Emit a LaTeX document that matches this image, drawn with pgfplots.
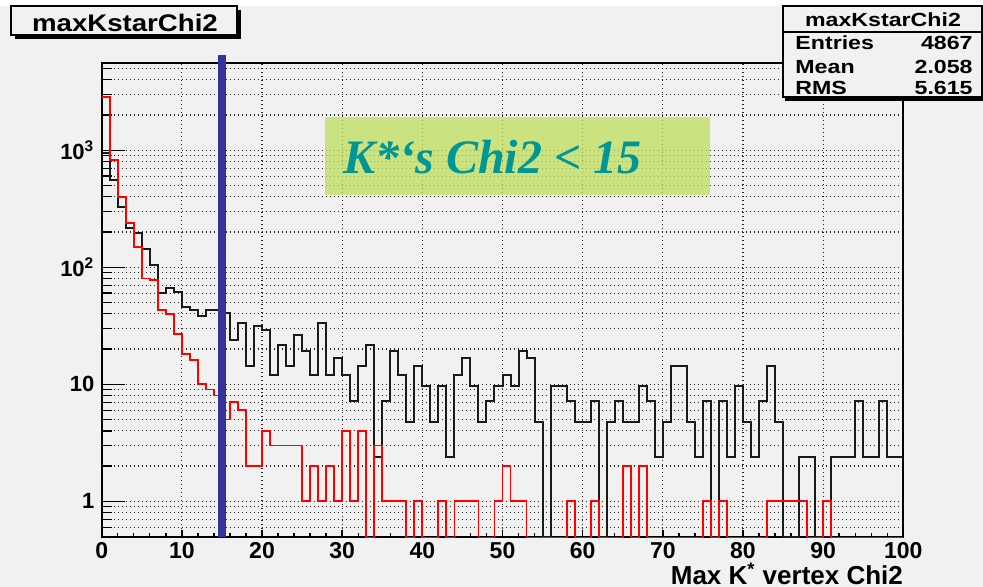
\documentclass[border=0pt]{standalone}
\usepackage{fontspec}
\setmainfont{Liberation Sans}
\newfontfamily\timesfont{Liberation Serif}
\usepackage{graphicx}
\usepackage{pgfplots}
\pgfplotsset{compat=1.18}
\definecolor{rootbg}{RGB}{241,241,241}
\definecolor{cutblue}{RGB}{51,51,153}
\definecolor{boxgreen}{RGB}{190,222,90}
\definecolor{cuttext}{RGB}{0,150,150}

\begin{document}
\begin{tikzpicture}
% canvas: 983 x 587 px, 1 px = 0.5 pt
\fill[rootbg] (0,0) rectangle (491.5pt,293.5pt);
\fill[white] (0,290.5pt) rectangle (491.5pt,293.5pt);
\begin{axis}[
  at={(50.85pt,24.75pt)}, anchor=south west,
  scale only axis, width=400.8pt, height=237.4pt,
  xmin=0, xmax=100,
  ymode=log, ymin=0.49, ymax=5600,
  xtick={0,10,...,100}, minor x tick num=4,
  ytick={1,10,100,1000},
  yticklabels={1,10,10\textsuperscript{2},10\textsuperscript{3}},
  minor ytick={0.5,0.6,0.7,0.8,0.9,2,3,4,5,6,7,8,9,20,30,40,50,60,70,80,90,
    200,300,400,500,600,700,800,900,2000,3000,4000,5000},
  tick pos=left, tick align=inside,
  major tick length=11.5pt, minor tick length=5pt,
  every major x tick/.append style={/pgfplots/major tick length=4pt},
  every minor x tick/.append style={/pgfplots/minor tick length=2.5pt},
  tick style={black, line width=0.7pt},
  axis line style={line width=1pt},
  xmajorgrids, ymajorgrids, yminorgrids,
  major grid style={black!85, line width=0.55pt, dash pattern=on 0.6pt off 1.4pt},
  minor grid style={black!85, line width=0.55pt, dash pattern=on 0.6pt off 1.4pt},
  /pgf/number format/assume math mode=true,
  xticklabel style={font=\bfseries\fontsize{11.5}{13}\selectfont, inner sep=0pt, yshift=-2.5pt},
  yticklabel style={font=\bfseries\fontsize{11}{13}\selectfont, inner sep=0pt, xshift=-3.5pt},
  xlabel={Max K\textsuperscript{*} vertex Chi2},
  xlabel style={at={(rel axis cs:1,0)}, anchor=base east, inner sep=0pt,
    yshift=-23.25pt, font=\bfseries\fontsize{13}{15}\selectfont},
  clip=false,
]
% green label box, translucent so the grid shows through
\fill[boxgreen, fill opacity=0.75] (axis cs:27.85,414) rectangle (axis cs:75.9,1920);

% black histogram (scaled, 100 bins of width 1; empty bins sit on the axis floor)
\addplot[const plot mark left, black!90, line width=1pt] coordinates {
(0,950) (1,556) (2,327) (3,216) (4,195) (5,143) (6,105) (7,60) (8,67) (9,62)
(10,45.6) (11,43.2) (12,38.4) (13,43.2) (14,43.2) (15,40.8) (16,24) (17,33.6) (18,14.4) (19,31.2)
(20,28.8) (21,12) (22,21.6) (23,14.4) (24,26.4) (25,19.2) (26,12) (27,33.6) (28,12) (29,16.8)
(30,12) (31,7.2) (32,14.4) (33,21.6) (34,2.4) (35,7.2) (36,19.2) (37,12) (38,4.8) (39,14.4)
(40,9.6) (41,4.8) (42,9.6) (43,2.4) (44,12) (45,16.8) (46,9.6) (47,4.8) (48,7.2) (49,9.6)
(50,12) (51,9.6) (52,19.2) (53,16.8) (54,4.8) (55,0.49) (56,9.6) (57,9.6) (58,7.2) (59,4.8)
(60,4.8) (61,7.2) (62,0.49) (63,4.8) (64,7.2) (65,4.8) (66,4.8) (67,9.6) (68,7.2) (69,2.4)
(70,4.8) (71,14.4) (72,14.4) (73,4.8) (74,2.4) (75,7.2) (76,0.49) (77,7.2) (78,2.4) (79,9.6)
(80,4.8) (81,2.4) (82,7.2) (83,14.4) (84,4.8) (85,0.49) (86,0.49) (87,2.4) (88,2.4) (89,0.49)
(90,0.49) (91,2.4) (92,2.4) (93,2.4) (94,7.2) (95,2.4) (96,2.4) (97,7.2) (98,2.4) (99,2.4)
(100,2.4)};

% red histogram (counts)
\addplot[const plot mark left, red, line width=0.9pt] coordinates {
(0,2843) (1,825) (2,396) (3,240) (4,150) (5,80) (6,78) (7,43) (8,40) (9,27)
(10,18) (11,16) (12,10) (13,9) (14,8) (15,5) (16,7) (17,6) (18,2) (19,2)
(20,4) (21,3) (22,3) (23,3) (24,3) (25,1) (26,2) (27,1) (28,2) (29,1)
(30,4) (31,1) (32,4) (33,0.49) (34,3) (35,1) (36,1) (37,1) (38,0.49) (39,1)
(40,0.49) (41,0.49) (42,1) (43,0.49) (44,1) (45,1) (46,1) (47,0.49) (48,0.49) (49,1)
(50,2) (51,1) (52,1) (53,0.49) (54,0.49) (55,0.49) (56,0.49) (57,0.49) (58,1) (59,0.49)
(60,0.49) (61,1) (62,0.49) (63,0.49) (64,0.49) (65,2) (66,0.49) (67,2) (68,0.49) (69,0.49)
(70,0.49) (71,0.49) (72,0.49) (73,0.49) (74,0.49) (75,1) (76,0.49) (77,1) (78,0.49) (79,0.49)
(80,0.49) (81,0.49) (82,0.49) (83,1) (84,1) (85,1) (86,1) (87,1) (88,0.49) (89,0.49)
(90,1) (91,0.49) (92,0.49) (93,0.49) (94,0.49) (95,0.49) (96,0.49) (97,0.49) (98,0.49) (99,0.49)
(100,0.49)};

% cut line and label
\draw[cutblue, line width=3.6pt] (axis cs:15,0.49) -- (axis cs:15,6500);
\node[anchor=base, inner sep=0pt, text=cuttext,
  font=\timesfont\bfseries\itshape\fontsize{24}{26}\selectfont]
  at (axis cs:48.75,635) {K*‘s Chi2 < 15};
\end{axis}

% title and stats boxes, in pixel units from the top left corner
\begin{scope}[x=0.5pt, y=-0.5pt, shift={(0pt,293.5pt)}]
\fill[black] (15,10) rectangle (241,39);
\filldraw[fill=rootbg, draw=black, line width=0.6pt] (11,6) rectangle (237,35);
\node[anchor=base, inner sep=0pt, font=\bfseries\fontsize{12}{14}\selectfont]
  at (125,31.5) {\scalebox{1.15}[1]{maxKstarChi2}};

\fill[black] (785,96) rectangle (983,101);
\filldraw[fill=rootbg, draw=black, line width=0.6pt] (783,6) rectangle (982,97);
\draw[black, line width=0.6pt] (783,32) -- (982,32);
\begin{scope}[every node/.style={inner sep=0pt, font=\bfseries\fontsize{9.5}{11}\selectfont}]
\node[anchor=base] at (883,26.7) {\scalebox{1.22}[1]{maxKstarChi2}};
\node[anchor=base west] at (795,50) {\scalebox{1.22}[1]{Entries}};
\node[anchor=base east] at (973,50) {\scalebox{1.22}[1]{4867}};
\node[anchor=base west] at (795,74) {\scalebox{1.22}[1]{Mean}};
\node[anchor=base east] at (973,74) {\scalebox{1.22}[1]{2.058}};
\node[anchor=base west] at (795,95) {\scalebox{1.22}[1]{RMS}};
\node[anchor=base east] at (973,95) {\scalebox{1.22}[1]{5.615}};
\end{scope}
\end{scope}
\pgfresetboundingbox
\path (0,0) rectangle (491.5pt,293.5pt);
\end{tikzpicture}
\end{document}
